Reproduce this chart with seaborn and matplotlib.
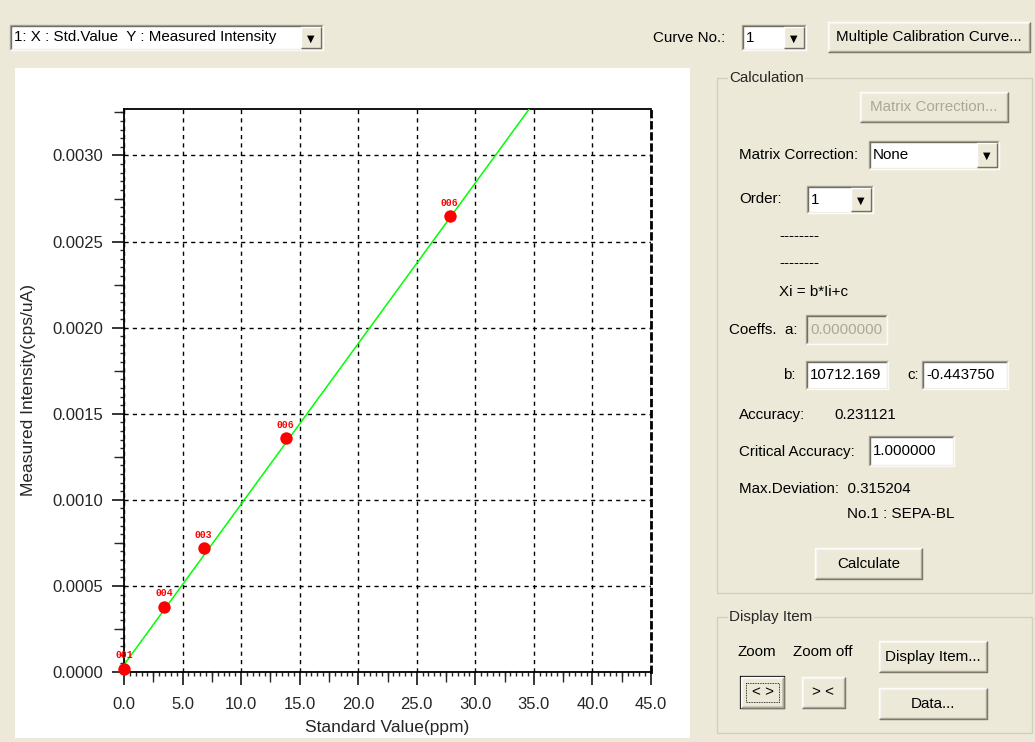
import numpy as np
import matplotlib
matplotlib.use("Agg")
import matplotlib.pyplot as plt
import seaborn as sns
import pandas as pd
from matplotlib.patches import Rectangle
from matplotlib.ticker import FormatStrFormatter, MultipleLocator

# calibration points
std_value = [0.0, 3.4, 6.8, 13.8, 27.8]
intensity = [0.00002, 0.00038, 0.00072, 0.00136, 0.00265]
sample_no = ["001", "004", "003", "006", "006"]

# fitted line end points (Xi = b*Ii + c)
fit_x = [0.0, 34.6]
fit_y = [0.0000414, 0.00327]

x_ticks = [0.0, 5.0, 10.0, 15.0, 20.0, 25.0, 30.0, 35.0, 40.0, 45.0]
y_ticks = [0.0, 0.0005, 0.0010, 0.0015, 0.0020, 0.0025, 0.0030]

sns.set_style("white")
plt.rcParams["font.family"] = ["Liberation Sans", "DejaVu Sans"]

BG = "#ECE9D8"
W, H = 1035, 742
UI_FS = 10.9

fig = plt.figure(figsize=(W / 100, H / 100), dpi=100, facecolor=BG)

# ---- dialog chrome (pixel coords, y from top) ----
ov = fig.add_axes([0, 0, 1, 1], zorder=0)
ov.set_xlim(0, W)
ov.set_ylim(H, 0)
ov.axis("off")


def rect(x0, y0, x1, y1, fc, ec="none", lw=0):
    ov.add_patch(Rectangle((x0, y0), x1 - x0, y1 - y0, facecolor=fc, edgecolor=ec, lw=lw))


def edge(x0, y0, x1, y1, tl, br):
    ov.plot([x0, x0, x1], [y1, y0, y0], color=tl, lw=1, solid_capstyle="butt")
    ov.plot([x0, x1, x1], [y1, y1, y0], color=br, lw=1, solid_capstyle="butt")


def button(x0, y0, x1, y1, label, color="black", default=False):
    rect(x0, y0, x1, y1, BG)
    edge(x0, y0, x1, y1, "white", "#716F64")
    edge(x0 + 1, y0 + 1, x1 - 1, y1 - 1, "#F5F4EE", "#ACA899")
    if default:
        ov.add_patch(Rectangle((x0, y0), x1 - x0, y1 - y0, fill=False, ec="black", lw=1.6))
        ov.add_patch(Rectangle((x0 + 5, y0 + 6), x1 - x0 - 10, y1 - y0 - 12, fill=False,
                               ec="black", lw=0.6, ls=(0, (1, 1))))
    ov.text((x0 + x1) / 2, (y0 + y1) / 2, label, ha="center", va="center",
            fontsize=UI_FS, color=color)


def sunken(x0, y0, x1, y1, text="", face="white", color="black"):
    rect(x0, y0, x1, y1, face)
    edge(x0, y0, x1, y1, "#ACA899", "white")
    edge(x0 + 1, y0 + 1, x1 - 1, y1 - 1, "#716F64", "#F1EFE2")
    if text:
        ov.text(x0 + 4, (y0 + y1) / 2, text, ha="left", va="center",
                fontsize=UI_FS, color=color)


def combo(x0, y0, x1, y1, text):
    sunken(x0, y0, x1, y1, text)
    bx0 = x1 - 22
    rect(bx0, y0 + 2, x1 - 2, y1 - 2, BG)
    edge(bx0, y0 + 2, x1 - 2, y1 - 2, "white", "#716F64")
    ov.text((bx0 + x1 - 2) / 2, (y0 + y1) / 2 + 1, "\u25BC", ha="center", va="center",
            fontsize=7, color="black", family="DejaVu Sans")


def groupbox(x0, y0, x1, y1, title):
    ov.add_patch(Rectangle((x0, y0), x1 - x0, y1 - y0, fill=False, ec="#D0D0BF", lw=1))
    ov.text(x0 + 12, y0, title, ha="left", va="center", fontsize=UI_FS,
            bbox=dict(facecolor=BG, edgecolor="none", pad=1))


def label(x, y, s, color="black", ha="left"):
    ov.text(x, y, s, ha=ha, va="center", fontsize=UI_FS, color=color)


# chart panel
rect(15, 68, 690, 738, "white")

# top row
combo(10, 25, 323, 50, "1: X : Std.Value  Y : Measured Intensity")
label(653, 38, "Curve No.:")
combo(742, 25, 806, 50, "1")
button(828, 22, 1030, 52, "Multiple Calibration Curve...")

# calculation group
groupbox(717, 78, 1032, 593, "Calculation")
button(860, 92, 1008, 122, "Matrix Correction...", color="#ACA899")
label(739, 155, "Matrix Correction:")
combo(869, 141, 999, 169, "None")
label(739, 199, "Order:")
combo(807, 186, 873, 213, "1")
label(779, 236, "--------")
label(779, 263, "--------")
label(779, 292, "Xi = b*Ii+c")
label(729, 330, "Coeffs.  a:")
sunken(806, 315, 887, 344, "0.0000000", face=BG, color="#ACA899")
label(783, 375, "b:")
sunken(806, 361, 888, 389, "10712.169")
label(907, 375, "c:")
sunken(922, 361, 1008, 389, "-0.443750")
label(739, 415, "Accuracy:")
label(834, 415, "0.231121")
label(739, 452, "Critical Accuracy:")
sunken(869, 436, 954, 466, "1.000000")
label(739, 489, "Max.Deviation:  0.315204")
label(847, 514, "No.1 : SEPA-BL")
button(815, 548, 922, 579, "Calculate")

# display item group
groupbox(717, 617, 1032, 733, "Display Item")
label(737, 652, "Zoom")
label(793, 652, "Zoom off")
button(741, 677, 784, 708, "< >", default=True)
button(802, 677, 845, 708, "> <")
button(879, 641, 987, 672, "Display Item...")
button(879, 688, 987, 719, "Data...")

# ---- calibration chart ----
L, R, T, B = 124, 651, 109, 672
ax = fig.add_axes([L / W, (H - B) / H, (R - L) / W, (B - T) / H], zorder=2)
ax.set_facecolor("white")

df = pd.DataFrame({"x": std_value, "y": intensity, "no": sample_no})
line_df = pd.DataFrame({"x": fit_x, "y": fit_y})

sns.lineplot(data=line_df, x="x", y="y", ax=ax, color="#00FF00", lw=1.1, zorder=3)
sns.scatterplot(data=df, x="x", y="y", ax=ax, color="#FF0000", s=80,
                edgecolor="#FF0000", linewidth=0, zorder=4, clip_on=False)
for xv, yv, s in zip(df["x"], df["y"], df["no"]):
    ax.annotate(s, (xv, yv), xytext=(0, 9.5), textcoords="offset points",
                ha="center", va="center", fontsize=7, color="#FF0000",
                family="Liberation Mono", fontweight="bold", annotation_clip=False)

ax.set_xlim(0, 45)
ax.set_ylim(0, 0.00327)
ax.set_xticks(x_ticks)
ax.set_yticks(y_ticks)
ax.xaxis.set_major_formatter(FormatStrFormatter("%.1f"))
ax.yaxis.set_major_formatter(FormatStrFormatter("%.4f"))
ax.xaxis.set_minor_locator(MultipleLocator(0.5))
ax.yaxis.set_minor_locator(MultipleLocator(0.00005))
ax.tick_params(which="major", direction="out", length=9, width=1.1, labelsize=12,
               pad=6, color="black", bottom=True, left=True)
ax.tick_params(axis="x", which="major", pad=9)
ax.tick_params(which="minor", direction="out", length=3, width=1.0,
               bottom=True, left=True)

# medium ticks at the half steps
sx = ax.secondary_xaxis("bottom")
sx.set_xticks(np.array(x_ticks[:-1]) + 2.5)
sx.tick_params(direction="out", length=7, width=1.0, labelbottom=False)
sx.spines["bottom"].set_visible(False)
sy = ax.secondary_yaxis("left")
sy.set_yticks(np.array(y_ticks) + 0.00025)
sy.tick_params(direction="out", length=7, width=1.0, labelleft=False)
sy.spines["left"].set_visible(False)

ax.grid(True, which="major", color="black", ls=(0, (3, 3)), lw=1.0)
for side in ["left", "bottom", "top"]:
    ax.spines[side].set_color("black")
    ax.spines[side].set_linewidth(1.3)
ax.spines["right"].set_color("black")
ax.spines["right"].set_linewidth(2)
ax.spines["right"].set_linestyle((0, (2, 2)))

ax.set_xlabel("Standard Value(ppm)", fontsize=12.5, labelpad=6)
ax.set_ylabel("Measured Intensity(cps/uA)", fontsize=12.5, labelpad=12)

fig.savefig("out.png", dpi=100, facecolor=BG)
